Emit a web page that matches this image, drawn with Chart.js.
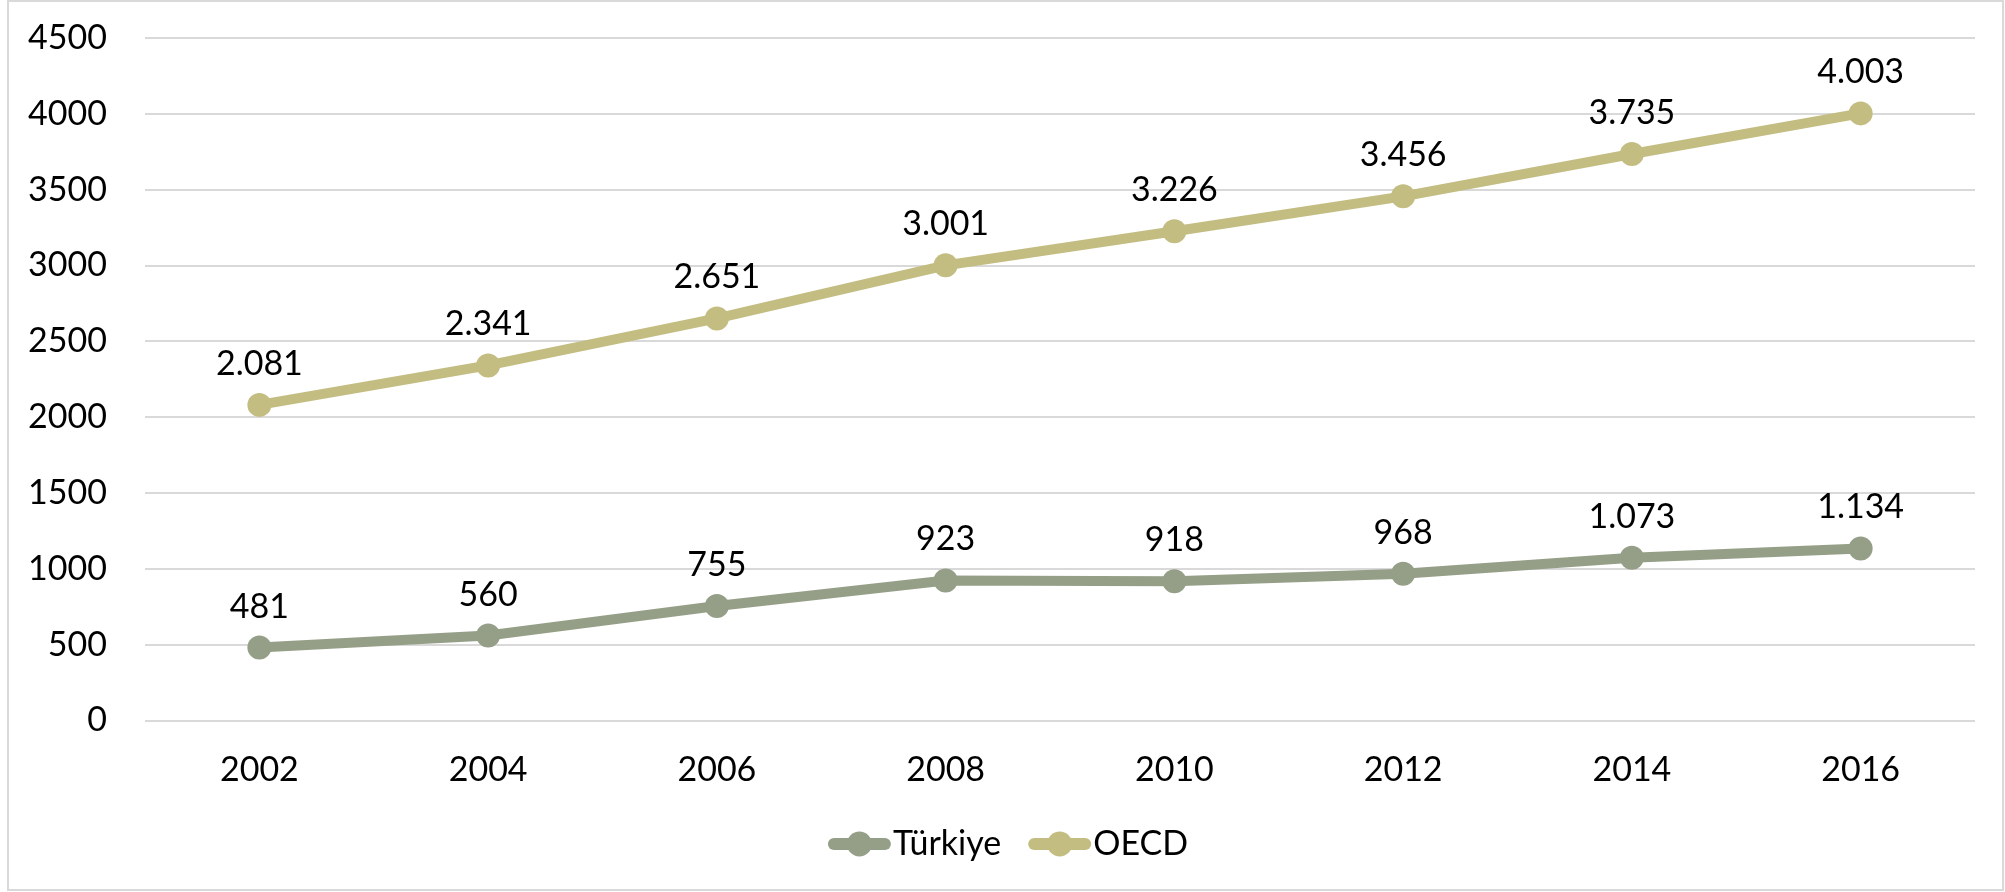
<!DOCTYPE html>
<html>
<head>
<meta charset="utf-8">
<script src="https://cdn.jsdelivr.net/npm/chart.js@4.4.1/dist/chart.umd.min.js"></script>
<style>
  html, body { margin: 0; padding: 0; background: #fff; }
  canvas { display: block; }
</style>
</head>
<body>
<canvas id="chart" width="2005" height="892"></canvas>
<script>
// Chart data
const years = ['2002', '2004', '2006', '2008', '2010', '2012', '2014', '2016'];
const turkiye = [481, 560, 755, 923, 918, 968, 1073, 1134];
const oecd = [2081, 2341, 2651, 3001, 3226, 3456, 3735, 4003];
const seriesNames = ['Türkiye', 'OECD'];
const seriesColors = ['#959f88', '#c3bd82'];

const FONT = 'Lato, "Noto Sans", sans-serif';
const FONT_SIZE = 34;

// thousands separator as in the source (Turkish style: 1.134)
function fmt(v) {
  return String(v).replace(/\B(?=(\d{3})+(?!\d))/g, '.');
}

// Outer frame round the whole chart
const framePlugin = {
  id: 'frame',
  beforeDraw(chart) {
    const ctx = chart.ctx;
    ctx.save();
    ctx.fillStyle = '#fff';
    ctx.fillRect(0, 0, chart.width, chart.height);
    ctx.strokeStyle = '#d9d9d9';
    ctx.lineWidth = 2;
    ctx.strokeRect(8, 1, 1995, 889);
    ctx.restore();
  }
};

// Value labels above every point
const valueLabels = {
  id: 'valueLabels',
  afterDatasetsDraw(chart) {
    const ctx = chart.ctx;
    ctx.save();
    ctx.font = `${FONT_SIZE}px ${FONT}`;
    ctx.fillStyle = '#000';
    ctx.textAlign = 'center';
    ctx.textBaseline = 'middle';
    chart.data.datasets.forEach((ds, i) => {
      chart.getDatasetMeta(i).data.forEach((pt, j) => {
        ctx.fillText(fmt(ds.data[j]), pt.x, pt.y - 41);
      });
    });
    ctx.restore();
  }
};

// Legend drawn like the Excel one: line + marker, then name
const lineLegend = {
  id: 'lineLegend',
  afterDraw(chart) {
    const ctx = chart.ctx;
    const symW = 63, gapText = 2, gapItem = 27;
    const y = 844;
    ctx.save();
    ctx.font = `${FONT_SIZE}px ${FONT}`;
    const widths = seriesNames.map(n => symW + gapText + ctx.measureText(n).width);
    const total = widths.reduce((a, b) => a + b, 0) + gapItem * (widths.length - 1);
    let x = 1008 - total / 2;
    seriesNames.forEach((name, i) => {
      ctx.strokeStyle = seriesColors[i];
      ctx.fillStyle = seriesColors[i];
      ctx.lineWidth = 12;
      ctx.lineCap = 'round';
      ctx.beginPath();
      ctx.moveTo(x + 6, y);
      ctx.lineTo(x + symW - 6, y);
      ctx.stroke();
      ctx.beginPath();
      ctx.arc(x + symW / 2, y, 12.5, 0, Math.PI * 2);
      ctx.fill();
      ctx.fillStyle = '#000';
      ctx.textAlign = 'left';
      ctx.textBaseline = 'middle';
      ctx.fillText(name, x + symW + gapText, y);
      x += widths[i] + gapItem;
    });
    ctx.restore();
  }
};

new Chart(document.getElementById('chart'), {
  type: 'line',
  data: {
    labels: years,
    datasets: [
      {
        label: seriesNames[0],
        data: turkiye,
        borderColor: seriesColors[0],
        backgroundColor: seriesColors[0],
        borderWidth: 10,
        pointRadius: 12,
        pointHoverRadius: 12,
        pointBorderWidth: 0,
        tension: 0
      },
      {
        label: seriesNames[1],
        data: oecd,
        borderColor: seriesColors[1],
        backgroundColor: seriesColors[1],
        borderWidth: 10,
        pointRadius: 12,
        pointHoverRadius: 12,
        pointBorderWidth: 0,
        tension: 0
      }
    ]
  },
  options: {
    responsive: false,
    animation: false,
    devicePixelRatio: 1,
    layout: { padding: { left: 0, right: 30, top: 38, bottom: 0 } },
    plugins: {
      legend: { display: false },
      tooltip: { enabled: false }
    },
    scales: {
      x: {
        offset: true,
        grid: { display: false, drawTicks: false },
        border: { display: false },
        ticks: {
          color: '#000',
          font: { family: FONT, size: FONT_SIZE },
          padding: 29,
          maxRotation: 0
        },
        afterFit(scale) {
          scale.height = 892 - 720.5;
          scale.paddingLeft = 0;
          scale.paddingRight = 0;
        }
      },
      y: {
        min: 0,
        max: 4500,
        grid: { color: '#d9d9d9', lineWidth: 2, drawTicks: false },
        border: { display: false },
        ticks: {
          stepSize: 500,
          color: '#000',
          font: { family: FONT, size: FONT_SIZE },
          padding: 38,
          callback: v => String(v)
        },
        afterFit(scale) {
          scale.width = 145;
          scale.paddingTop = 0;
          scale.paddingBottom = 0;
        }
      }
    }
  },
  plugins: [framePlugin, valueLabels, lineLegend]
});
</script>
</body>
</html>
